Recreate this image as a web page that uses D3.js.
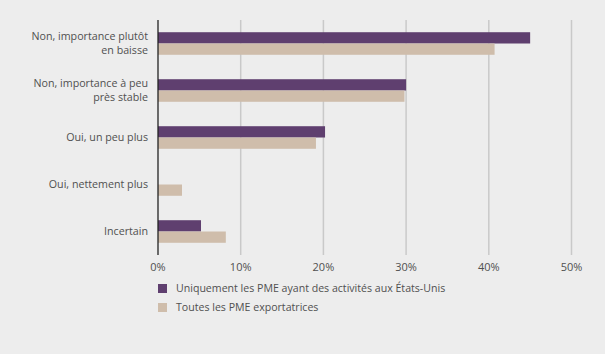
<!DOCTYPE html>
<html><head><meta charset="utf-8">
<script src="https://cdn.jsdelivr.net/npm/d3@7/dist/d3.min.js"></script>
<style>
html,body{margin:0;padding:0;background:#ededed;}
svg{display:block;}
text{font-family:"Open Sans","Noto Sans",sans-serif;fill:#505050;}
</style></head>
<body>
<svg id="chart" width="605" height="354"></svg>
<script>
const categories = [
  ["Non, importance plutôt", "en baisse"],
  ["Non, importance à peu", "près stable"],
  ["Oui, un peu plus"],
  ["Oui, nettement plus"],
  ["Incertain"]
];
const seriesNames = ["Uniquement les PME ayant des activités aux États-Unis", "Toutes les PME exportatrices"];
const usValues = [45.0, 30.0, 20.2, 0, 5.2];
const allValues = [40.7, 29.8, 19.1, 2.9, 8.2];
const xTicks = [0, 10, 20, 30, 40, 50];
const colors = ["#5f3f6f", "#cfbdab"];

const svg = d3.select("#chart");
const x = d3.scaleLinear().domain([0, 50]).range([158, 571.5]);
const y = d3.scaleBand().domain(d3.range(categories.length)).range([20, 255]).paddingInner(0.52).paddingOuter(0.26);
const sub = d3.scaleBand().domain([0, 1]).range([0, y.bandwidth()]);

// gridlines
svg.append("g").selectAll("line").data(xTicks.filter(d => d > 0)).join("line")
  .attr("x1", d => x(d)).attr("x2", d => x(d)).attr("y1", 20).attr("y2", 255)
  .attr("stroke", "#c9c9c9").attr("stroke-width", 1.5);

// bars
const series = [usValues, allValues];
series.forEach((vals, si) => {
  svg.append("g").selectAll("rect").data(vals.map((v, i) => ({v, i}))).join("rect")
    .filter(d => d.v > 0)
    .attr("x", x(0)).attr("y", d => y(d.i) + sub(si))
    .attr("width", d => x(d.v) - x(0)).attr("height", sub.bandwidth())
    .attr("fill", colors[si]);
});

// axis line
svg.append("line").attr("x1", x(0)).attr("x2", x(0)).attr("y1", 20).attr("y2", 255)
  .attr("stroke", "#222").attr("stroke-width", 1.3);

// x tick labels
svg.append("g").selectAll("text").data(xTicks).join("text")
  .attr("x", d => x(d)).attr("y", 267).attr("dy", "0.35em")
  .attr("text-anchor", "middle").style("font-size", "11px")
  .text(d => d + "%");

// category labels
const lh = 14.4;
categories.forEach((lines, i) => {
  const cy = y(i) + y.bandwidth() / 2;
  const t = svg.append("text").attr("text-anchor", "end").style("font-size", "10.7px");
  lines.forEach((ln, k) => {
    t.append("tspan").attr("x", 148)
      .attr("y", cy + (k - (lines.length - 1) / 2) * lh).attr("dy", "0.35em").text(ln);
  });
});

// legend
seriesNames.forEach((name, i) => {
  const ly = 288.5 + i * 19;
  svg.append("rect").attr("x", 158).attr("y", ly - 4.5).attr("width", 9).attr("height", 9).attr("fill", colors[i]);
  svg.append("text").attr("x", 176).attr("y", ly).attr("dy", "0.35em").style("font-size", "10.6px").text(name);
});
</script>
</body></html>
